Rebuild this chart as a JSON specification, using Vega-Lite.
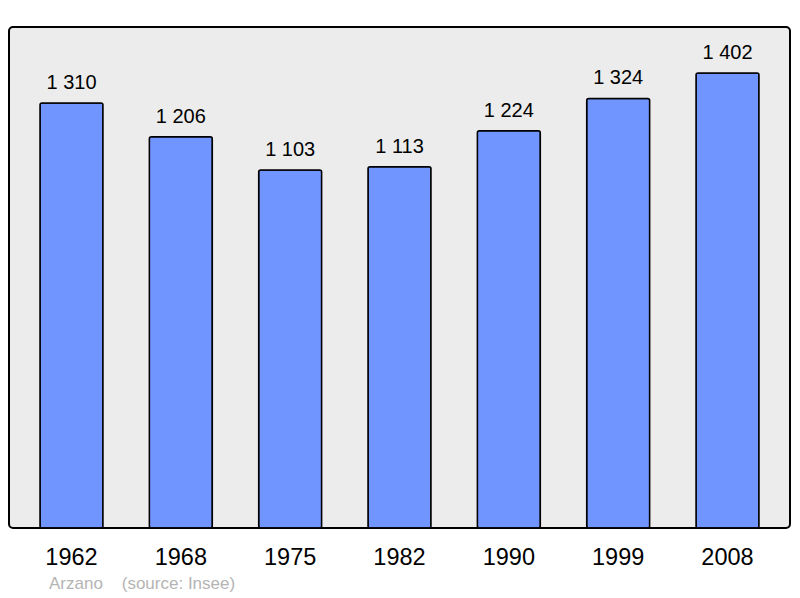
{
  "$schema": "https://vega.github.io/schema/vega-lite/v6.json",
  "width": 781,
  "height": 501,
  "padding": {"left": 9, "top": 27, "right": 10, "bottom": 70},
  "autosize": {"type": "none"},
  "background": "white",
  "config": {
    "locale": {"number": {"decimal": ",", "thousands": " ", "grouping": [3], "currency": ["", " €"]}},
    "view": {"fill": "#ececec", "stroke": "#000000", "strokeWidth": 2, "cornerRadius": 4},
    "font": "Liberation Sans"
  },
  "title": {
    "text": "Arzano \u00a0\u00a0\u00a0(source: Insee)",
    "orient": "bottom",
    "anchor": "start",
    "dx": 40,
    "offset": 7,
    "fontSize": 17,
    "fontWeight": "normal",
    "color": "#b4b4b4",
    "font": "Liberation Sans"
  },
  "data": {
    "values": [
      {"year": "1962", "population": 1310},
      {"year": "1968", "population": 1206},
      {"year": "1975", "population": 1103},
      {"year": "1982", "population": 1113},
      {"year": "1990", "population": 1224},
      {"year": "1999", "population": 1324},
      {"year": "2008", "population": 1402}
    ]
  },
  "encoding": {
    "x": {
      "field": "year",
      "type": "ordinal",
      "scale": {"paddingInner": 0.424, "paddingOuter": 0.2835},
      "axis": {"title": null, "labelAngle": 0, "labelFontSize": 23.5, "labelColor": "#000000", "labelPadding": 17, "ticks": false, "domain": false, "labelFont": "Liberation Sans"}
    },
    "y": {
      "field": "population",
      "type": "quantitative",
      "scale": {"domain": [0, 1544], "nice": false},
      "axis": null
    }
  },
  "layer": [
    {
      "mark": {"type": "bar", "fill": "#7095ff", "stroke": "#000000", "strokeWidth": 1.5, "cornerRadius": 2}
    },
    {
      "mark": {"type": "text", "baseline": "alphabetic", "dy": -14, "fontSize": 20, "color": "#000000", "font": "Liberation Sans"},
      "encoding": {"text": {"field": "population", "type": "quantitative", "format": ",d"}}
    }
  ]
}
